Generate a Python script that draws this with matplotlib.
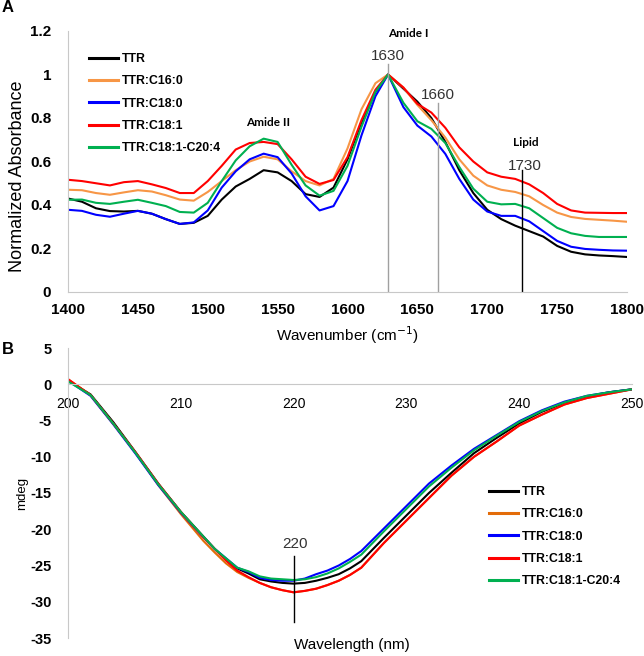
import matplotlib.pyplot as plt
import numpy as np

plt.rcParams['font.family'] = ['Liberation Sans', 'DejaVu Sans']
plt.rcParams['axes.unicode_minus'] = False

# ---- Panel A : FTIR ----
wn = [1400, 1410, 1420, 1430, 1440, 1450, 1460, 1470, 1480, 1490, 1500,
      1510, 1520, 1530, 1540, 1550, 1560, 1570, 1580, 1590, 1600, 1610,
      1620, 1629, 1640, 1650, 1660, 1670, 1680, 1690, 1700, 1710, 1720,
      1730, 1740, 1750, 1760, 1770, 1780, 1790, 1800]

abs_ttr = [0.43, 0.415, 0.385, 0.372, 0.37, 0.373, 0.36, 0.335, 0.313, 0.318, 0.35,
           0.425, 0.485, 0.52, 0.56, 0.55, 0.51, 0.45, 0.437, 0.48, 0.61, 0.78,
           0.92, 1.0, 0.935, 0.875, 0.8, 0.69, 0.56, 0.455, 0.378, 0.335, 0.305,
           0.28, 0.255, 0.212, 0.185, 0.173, 0.168, 0.165, 0.161]
abs_c160 = [0.47, 0.468, 0.455, 0.447, 0.458, 0.468, 0.462, 0.445, 0.425, 0.42, 0.46,
            0.51, 0.56, 0.60, 0.622, 0.61, 0.555, 0.51, 0.49, 0.52, 0.66, 0.84,
            0.96, 1.0, 0.94, 0.86, 0.79, 0.71, 0.61, 0.535, 0.49, 0.47, 0.46,
            0.44, 0.40, 0.365, 0.345, 0.336, 0.332, 0.328, 0.323]
abs_c180 = [0.378, 0.373, 0.355, 0.346, 0.36, 0.373, 0.36, 0.335, 0.313, 0.32, 0.375,
            0.48, 0.555, 0.61, 0.636, 0.62, 0.545, 0.44, 0.375, 0.395, 0.51, 0.72,
            0.90, 1.0, 0.85, 0.765, 0.715, 0.635, 0.52, 0.425, 0.37, 0.35, 0.35,
            0.325, 0.28, 0.235, 0.208, 0.198, 0.194, 0.191, 0.19]
abs_c181 = [0.516, 0.51, 0.50, 0.49, 0.505, 0.51, 0.495, 0.478, 0.455, 0.455, 0.51,
            0.58, 0.655, 0.685, 0.69, 0.68, 0.61, 0.53, 0.497, 0.515, 0.62, 0.79,
            0.93, 1.0, 0.94, 0.865, 0.825, 0.755, 0.665, 0.60, 0.55, 0.53, 0.52,
            0.495, 0.455, 0.405, 0.375, 0.365, 0.364, 0.363, 0.363]
abs_c204 = [0.424, 0.425, 0.41, 0.405, 0.415, 0.424, 0.41, 0.395, 0.368, 0.365, 0.41,
            0.51, 0.605, 0.67, 0.705, 0.69, 0.585, 0.49, 0.443, 0.465, 0.58, 0.76,
            0.92, 1.0, 0.87, 0.785, 0.75, 0.685, 0.575, 0.475, 0.415, 0.403, 0.405,
            0.385, 0.34, 0.295, 0.27, 0.258, 0.253, 0.253, 0.253]

# ---- Panel B : CD ----
wl = [200, 202, 204, 206, 208, 210, 212, 213, 214, 215, 216, 217, 218, 219, 220,
      221, 222, 223, 224, 225, 226, 228, 230, 232, 234, 236, 238, 240, 242, 244,
      246, 248, 250]

cd_ttr = [0.5, -1.4, -5.2, -9.4, -13.7, -17.6, -21.0, -22.7, -24.2, -25.4, -26.1, -26.9, -27.2,
          -27.4, -27.5, -27.4, -27.1, -26.7, -26.2, -25.4, -24.4, -21.2, -18.1, -15.0, -12.2,
          -9.5, -7.4, -5.4, -3.8, -2.6, -1.7, -1.1, -0.7]
cd_c160 = [0.7, -1.5, -5.4, -9.5, -13.9, -17.9, -21.6, -23.2, -24.7, -25.9, -26.7, -27.4, -28.0,
           -28.4, -28.7, -28.5, -28.2, -27.7, -27.1, -26.3, -25.3, -21.9, -18.8, -15.7, -12.6,
           -10.0, -7.9, -5.7, -4.2, -2.8, -1.9, -1.3, -0.7]
cd_c180 = [0.5, -1.6, -5.5, -9.6, -13.9, -17.7, -21.1, -22.7, -24.0, -25.3, -25.9, -26.7, -27.0,
           -27.1, -27.1, -26.8, -26.2, -25.7, -25.0, -24.1, -23.0, -19.9, -16.8, -13.7, -11.2,
           -8.9, -7.0, -5.1, -3.6, -2.4, -1.6, -1.1, -0.7]
cd_c181 = [0.7, -1.5, -5.4, -9.4, -13.7, -17.6, -21.1, -22.7, -24.3, -25.7, -26.6, -27.4, -28.0,
           -28.4, -28.7, -28.5, -28.2, -27.7, -27.1, -26.3, -25.3, -21.9, -18.8, -15.7, -12.6,
           -10.0, -7.9, -5.7, -4.2, -2.8, -1.9, -1.3, -0.7]
cd_c204 = [0.4, -1.5, -5.4, -9.5, -13.8, -17.6, -21.0, -22.7, -24.0, -25.3, -25.8, -26.5, -26.8,
           -26.9, -27.0, -26.9, -26.6, -26.1, -25.4, -24.5, -23.5, -20.3, -17.2, -14.1, -11.5,
           -9.1, -7.1, -5.2, -3.7, -2.5, -1.6, -1.1, -0.7]

labels = ['TTR', 'TTR:C16:0', 'TTR:C18:0', 'TTR:C18:1', 'TTR:C18:1-C20:4']
colA = ['black', '#F79646', '#0000FF', '#FF0000', '#00B050']
colB = ['black', '#E36C09', '#0000FF', '#FF0000', '#00B050']

W, H = 644, 656
fig = plt.figure(figsize=(W/100, H/100), dpi=100)

tickfont = dict(fontsize=11, fontweight='bold')
legprop = dict(size=8.8, weight='bold')

# Panel A
axA = fig.add_axes([68/W, 1-292/H, (627-68)/W, (292-31)/H])
for y, c, lab in zip([abs_ttr, abs_c160, abs_c180, abs_c181, abs_c204], colA, labels):
    axA.plot(wn, y, color=c, lw=1.5, label=lab)
axA.set_xlim(1400, 1800)
axA.set_ylim(0, 1.2)
axA.set_xticks(range(1400, 1801, 50))
axA.set_xticklabels([str(v) for v in range(1400, 1801, 50)], **tickfont)
yt = [0, 0.2, 0.4, 0.6, 0.8, 1.0, 1.2]
axA.set_yticks(yt)
axA.set_yticklabels(['0', '0.2', '0.4', '0.6', '0.8', '1', '1.2'], **tickfont)
axA.tick_params(length=0, pad=8)
axA.tick_params(axis='y', pad=12)
for s in ['top', 'right']:
    axA.spines[s].set_visible(False)
for s in ['left', 'bottom']:
    axA.spines[s].set_color('#C8C8C8')

# marker lines
axA.plot([1629, 1629], [0, 1.05], color='#A0A0A0', lw=1)
axA.plot([1664.5, 1664.5], [0, 0.87], color='#A0A0A0', lw=1)
axA.plot([1725, 1725], [0, 0.56], color='black', lw=1)
axA.text(1628.7, 1.083, '1630', ha='center', va='center', fontsize=11, color='#333333')
axA.text(1664.5, 0.908, '1660', ha='center', va='center', fontsize=11, color='#333333')
axA.text(1727, 0.58, '1730', ha='center', va='center', fontsize=11, color='#333333')
anno = dict(fontsize=8.5, fontweight='bold', family=['Lato', 'DejaVu Sans'], ha='center', va='center')
axA.text(1643.7, 1.189, 'Amide I', **anno)
axA.text(1543, 0.78, 'Amide II', **anno)
axA.text(1727.6, 0.687, 'Lipid', **anno)

legA = axA.legend(loc='upper left', bbox_to_anchor=(16/559, 1 - 17/261), frameon=False,
                  prop=legprop, handlelength=2.4, handletextpad=0.3,
                  labelspacing=0.85, borderaxespad=0)
for ln in legA.get_lines():
    ln.set_linewidth(2.2)

fig.text(347/W, 1-335/H, 'Wavenumber (cm$^{-1}$)', ha='center', va='center', fontsize=11)
fig.text(18/W, 1-176/H, 'Normalized Absorbance', ha='center', va='center', fontsize=13, rotation=90)

# Panel B
axB = fig.add_axes([68/W, 1-638/H, (632-68)/W, (638-348)/H])
for y, c, lab in zip([cd_ttr, cd_c160, cd_c180, cd_c181, cd_c204], colB, labels):
    axB.plot(wl, y, color=c, lw=1.5, label=lab)
axB.set_xlim(200, 250)
axB.set_ylim(-35, 5)
axB.set_xticks(range(200, 251, 10))
axB.set_xticklabels([str(v) for v in range(200, 251, 10)], **tickfont)
ytb = list(range(5, -36, -5))
axB.set_yticks(ytb)
axB.set_yticklabels([str(v) for v in ytb], fontsize=10.5, fontweight='bold')
axB.tick_params(length=0)
axB.tick_params(axis='x', pad=9)
axB.tick_params(axis='y', pad=12)
axB.spines['bottom'].set_position(('data', 0))
for s in ['top', 'right']:
    axB.spines[s].set_visible(False)
for s in ['left', 'bottom']:
    axB.spines[s].set_color('#C8C8C8')

axB.plot([220, 220], [-23.7, -32.8], color='black', lw=1)
axB.text(220.1, -22.0, '220', ha='center', va='center', fontsize=11, color='#333333')

legB = axB.legend(loc='upper left', bbox_to_anchor=((484-68)/564, 1 - (481-348)/290), frameon=False,
                  prop=legprop, handlelength=2.4, handletextpad=0.3,
                  labelspacing=0.85, borderaxespad=0)
for ln in legB.get_lines():
    ln.set_linewidth(2.2)

fig.text(352/W, 1-645/H, 'Wavelength (nm)', ha='center', va='center', fontsize=11)
fig.text(22/W, 1-493/H, 'mdeg', ha='center', va='center', fontsize=9.5, rotation=90)

fig.text(8/W, 1-8/H, 'A', ha='center', va='center', fontsize=12, fontweight='bold')
fig.text(8/W, 1-350/H, 'B', ha='center', va='center', fontsize=12, fontweight='bold')

fig.savefig('out.png', dpi=100)
